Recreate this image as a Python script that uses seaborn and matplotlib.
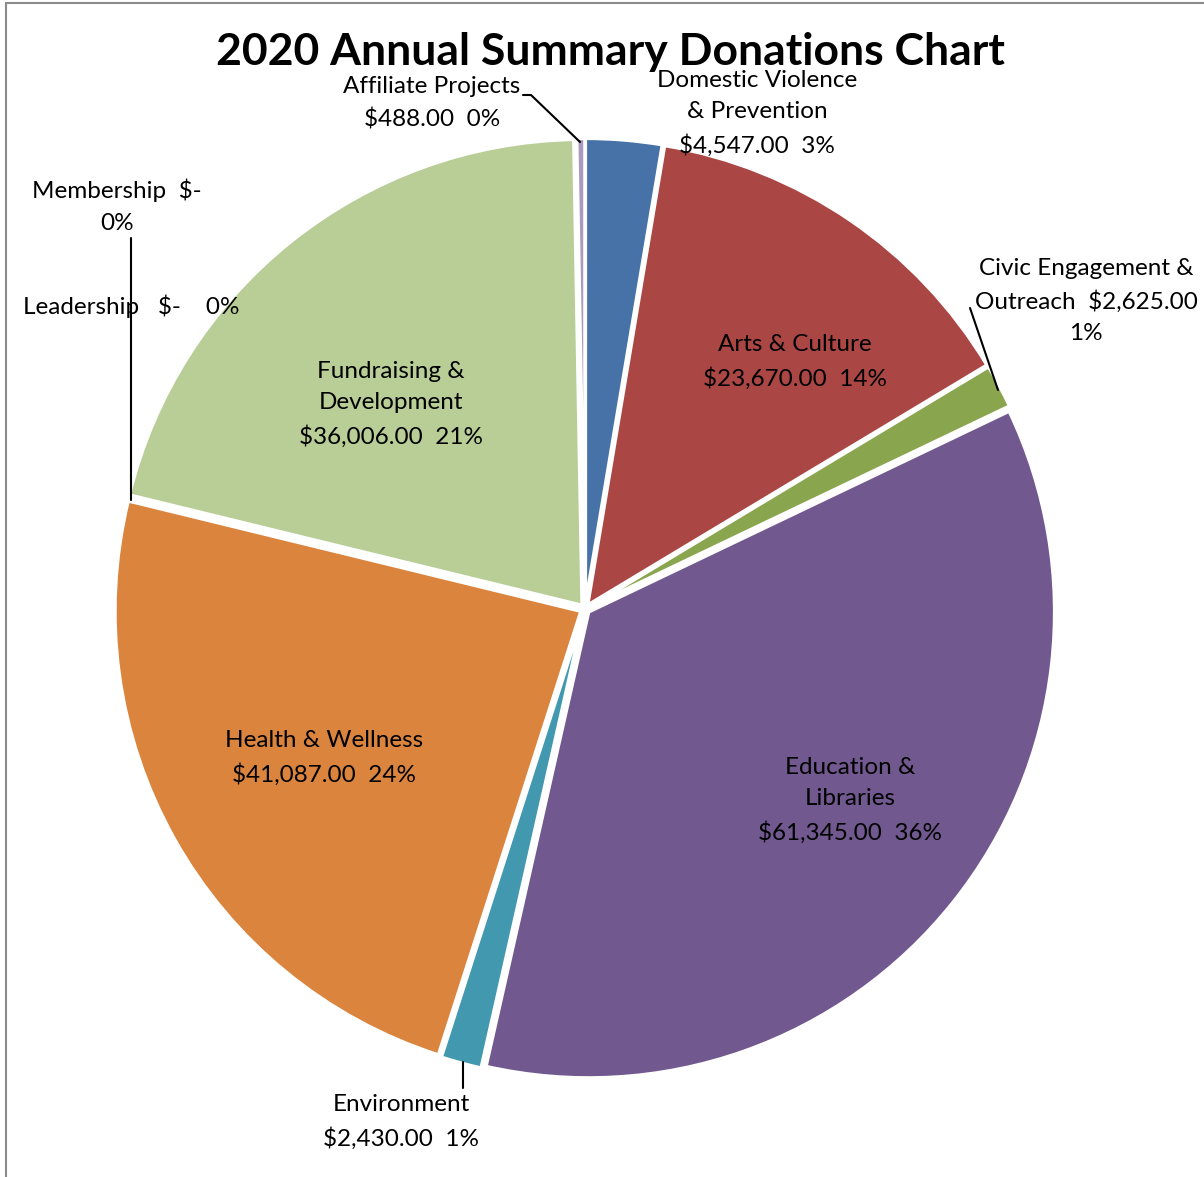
import numpy as np
import matplotlib.pyplot as plt
import seaborn as sns
from matplotlib.patches import Rectangle

# data, clockwise from 12 o'clock
categories = ["Domestic Violence\n& Prevention", "Arts & Culture", "Civic Engagement &\nOutreach",
              "Education &\nLibraries", "Environment", "Health & Wellness", "Leadership",
              "Membership", "Fundraising &\nDevelopment", "Affiliate Projects"]
amounts = [4547, 23670, 2625, 61345, 2430, 41087, 0, 0, 36006, 488]
amount_text = ["$4,547.00", "$23,670.00", "$2,625.00", "$61,345.00", "$2,430.00",
               "$41,087.00", "$-", "$-", "$36,006.00", "$488.00"]
pct_text = ["3%", "14%", "1%", "36%", "1%", "24%", "0%", "0%", "21%", "0%"]
colors = ["#4672A8", "#AA4644", "#89A54E", "#71588F", "#4198AF",
          "#DB843D", "#C0504D", "#9BBB59", "#B9CD96", "#A99BBD"]

sns.set_theme(style="white")
plt.rcParams['font.family'] = ['Lato', 'DejaVu Sans']

W, H = 1204, 1177
CX, CY, R = 585, 609, 466   # pie centre / radius in pixels


def px(x, y):
    # pixel position -> data coords (pie radius = 1)
    return (x - CX) / R, (CY - y) / R


fig = plt.figure(figsize=(W / 100, H / 100), dpi=100)
ax = fig.add_axes([0, 0, 1, 1])
ax.pie(amounts, colors=colors, startangle=90, counterclock=False, radius=1,
       explode=[0.01] * len(amounts),
       wedgeprops=dict(edgecolor="white", linewidth=2.5))
ax.set_xlim(px(0, 0)[0], px(W, 0)[0])
ax.set_ylim(px(0, H)[1], px(0, 0)[1])
ax.set_aspect("auto")
ax.axis("off")

# label text, broken the way the chart does it
seps = [("\n", "  "), ("\n", "  "), ("  ", "\n"), ("\n", "  "), ("\n", "  "),
        ("\n", "  "), ("   ", "    "), ("  ", "\n"), ("\n", "  "), ("\n", "  ")]
label_pos = [(757, 113), (795, 362), (1086, 301), (850, 800), (401, 1122),
             (324, 758), (131, 306), (117, 206), (391, 404), (432, 103)]
for name, amt, pct, (s1, s2), (lx, ly) in zip(categories, amount_text, pct_text, seps, label_pos):
    x, y = px(lx, ly)
    ax.text(x, y, name + s1 + amt + s2 + pct, ha="center", va="center",
            fontsize=17.5, linespacing=1.62, color="black")

# leader lines
leaders = [[(523, 95), (531, 95), (580, 142)],
           [(970, 308), (998, 390)],
           [(463, 1062), (463, 1088)],
           [(131, 238), (131, 500)]]
for pts in leaders:
    xs, ys = zip(*[px(a, b) for a, b in pts])
    ax.plot(xs, ys, color="black", lw=1.5)

tx, ty = px(610, 52)
ax.text(tx, ty, "2020 Annual Summary Donations Chart", ha="center", va="center",
        fontsize=32, fontweight="bold", color="black")

# chart frame (only top and left are inside the picture)
fig.patches.append(Rectangle((6 / W, -0.1), 1.2, (H - 3) / H + 0.1, transform=fig.transFigure,
                             fill=False, edgecolor="#8C8C8C", lw=1.5))

fig.savefig("out.png", dpi=100)
